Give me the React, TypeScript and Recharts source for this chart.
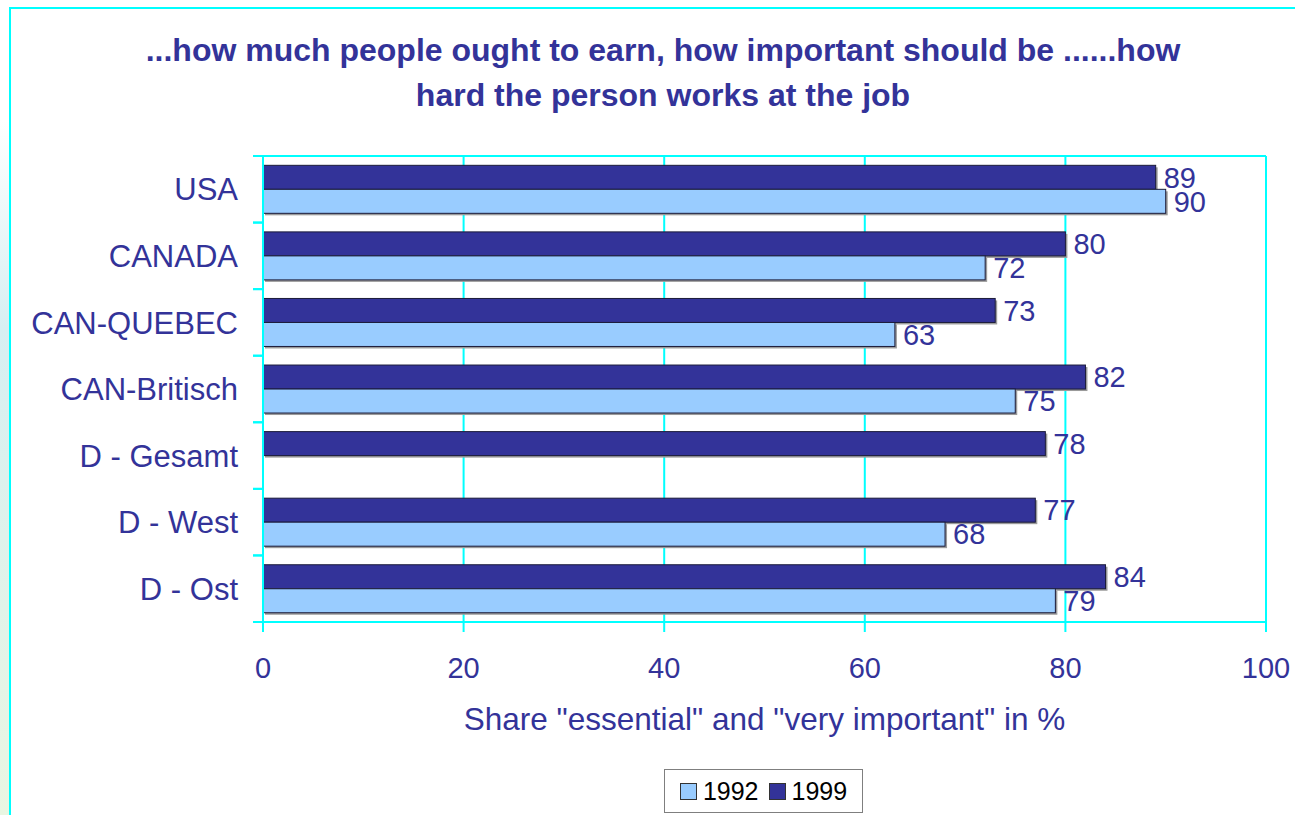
import { BarChart, Bar, XAxis, YAxis, CartesianGrid, LabelList } from 'recharts'

const categories = ['USA', 'CANADA', 'CAN-QUEBEC', 'CAN-Britisch', 'D - Gesamt', 'D - West', 'D - Ost']
const values1999 = [89, 80, 73, 82, 78, 77, 84]
const values1992: (number | null)[] = [90, 72, 63, 75, null, 68, 79]
const xTicks = [0, 20, 40, 60, 80, 100]

const titleLines = ['...how much people ought to earn, how important should be ......how', 'hard the person works at the job']
const xLabel = 'Share "essential" and "very important" in %'

const NAVY = '#333399'
const LIGHT = '#99CCFF'
const CYAN = '#00FFFF'
const FONT = '"Liberation Sans", Arial, sans-serif'

const W = 1295
const H = 815
const PLOT_TOP = 156
const PLOT_H = 466

const data = categories.map((name, i) => ({
  name,
  y1999: values1999[i],
  y1992: values1992[i],
}))

// bar with the small grey drop shadow of the original
// eslint-disable-next-line @typescript-eslint/no-explicit-any
const ShadowBar = (props: any) => {
  const { x, y, width, height, fill } = props
  if (!width || width <= 0) return null
  return (
    <g>
      <rect x={x + 2} y={y + 2} width={width} height={height} fill="#9a9a9a" />
      <rect x={x} y={y} width={width} height={height} fill={fill} stroke="#1b1b3a" strokeWidth={1} />
    </g>
  )
}

// category label plus tick marks at the band edges
// eslint-disable-next-line @typescript-eslint/no-explicit-any
const CategoryTick = (props: any) => {
  const { x, y, payload } = props
  const band = PLOT_H / categories.length
  const ax = x + 25
  return (
    <g>
      <line x1={ax - 10} x2={ax} y1={y - band / 2} y2={y - band / 2} stroke={CYAN} strokeWidth={2} />
      <line x1={ax - 10} x2={ax} y1={y + band / 2} y2={y + band / 2} stroke={CYAN} strokeWidth={2} />
      <text x={x} y={y} dy="0.36em" textAnchor="end" fill={NAVY} fontSize={31} fontFamily={FONT}>
        {payload.value}
      </text>
    </g>
  )
}

const legendItems = [
  { label: '1992', color: LIGHT },
  { label: '1999', color: NAVY },
]

export default function App() {
  return (
    <div style={{ position: 'absolute', left: 0, top: 0, width: W, height: H, background: '#fff', overflow: 'hidden', fontFamily: FONT }}>
      <div
        style={{
          position: 'absolute', left: 0, top: 120, width: 9, height: H - 120,
          background: 'linear-gradient(to bottom, #ffffff, #d6eff2 30%, #e9f6e2)',
        }}
      />
      <div style={{ position: 'absolute', left: 9, top: 7, width: W, height: H, border: `2px solid ${CYAN}` }} />

      <div
        style={{
          position: 'absolute', left: 0, top: 28, width: 1326, textAlign: 'center',
          color: NAVY, fontWeight: 'bold', fontSize: 32, lineHeight: '45px',
        }}
      >
        {titleLines.map((l) => (
          <div key={l}>{l}</div>
        ))}
      </div>

      <div style={{ position: 'absolute', left: 0, top: 0 }}>
        <BarChart
          width={W}
          height={H}
          data={data}
          layout="vertical"
          margin={{ top: PLOT_TOP, right: 29, left: 10, bottom: 83 }}
          barCategoryGap="14%"
          barGap={0}
        >
          <CartesianGrid
            stroke={CYAN}
            strokeWidth={2}
            // eslint-disable-next-line @typescript-eslint/no-explicit-any
            horizontalCoordinatesGenerator={(p: any) => [p.offset.top]}
          />
          <XAxis
            type="number"
            domain={[0, 100]}
            ticks={xTicks}
            height={110}
            tickSize={10}
            tickMargin={25}
            stroke={CYAN}
            axisLine={{ stroke: CYAN, strokeWidth: 2 }}
            tickLine={{ stroke: CYAN, strokeWidth: 2 }}
            tick={{ fill: NAVY, fontSize: 29, fontFamily: FONT }}
            label={{ value: xLabel, position: 'insideBottom', offset: 2, fill: NAVY, fontSize: 31.5, fontFamily: FONT }}
          />
          <YAxis
            type="category"
            dataKey="name"
            width={253}
            tickLine={false}
            tickSize={10}
            tickMargin={15}
            axisLine={{ stroke: CYAN, strokeWidth: 2 }}
            tick={<CategoryTick />}
            interval={0}
          />
          <Bar dataKey="y1999" fill={NAVY} shape={<ShadowBar />} isAnimationActive={false}>
            <LabelList dataKey="y1999" position="right" offset={8} fill={NAVY} fontSize={29} fontFamily={FONT} />
          </Bar>
          <Bar dataKey="y1992" fill={LIGHT} shape={<ShadowBar />} isAnimationActive={false}>
            <LabelList dataKey="y1992" position="right" offset={8} fill={NAVY} fontSize={29} fontFamily={FONT} />
          </Bar>
        </BarChart>
      </div>

      <div
        style={{
          position: 'absolute', left: 664, top: 769, width: 197, height: 42,
          border: '1px solid #7f7f7f', display: 'flex', alignItems: 'center', justifyContent: 'center', gap: 10,
        }}
      >
        {legendItems.map((it) => (
          <div key={it.label} style={{ display: 'flex', alignItems: 'center', gap: 6 }}>
            <div style={{ width: 15, height: 15, background: it.color, border: '1px solid #333' }} />
            <span style={{ fontSize: 25, color: '#000' }}>{it.label}</span>
          </div>
        ))}
      </div>
    </div>
  )
}
